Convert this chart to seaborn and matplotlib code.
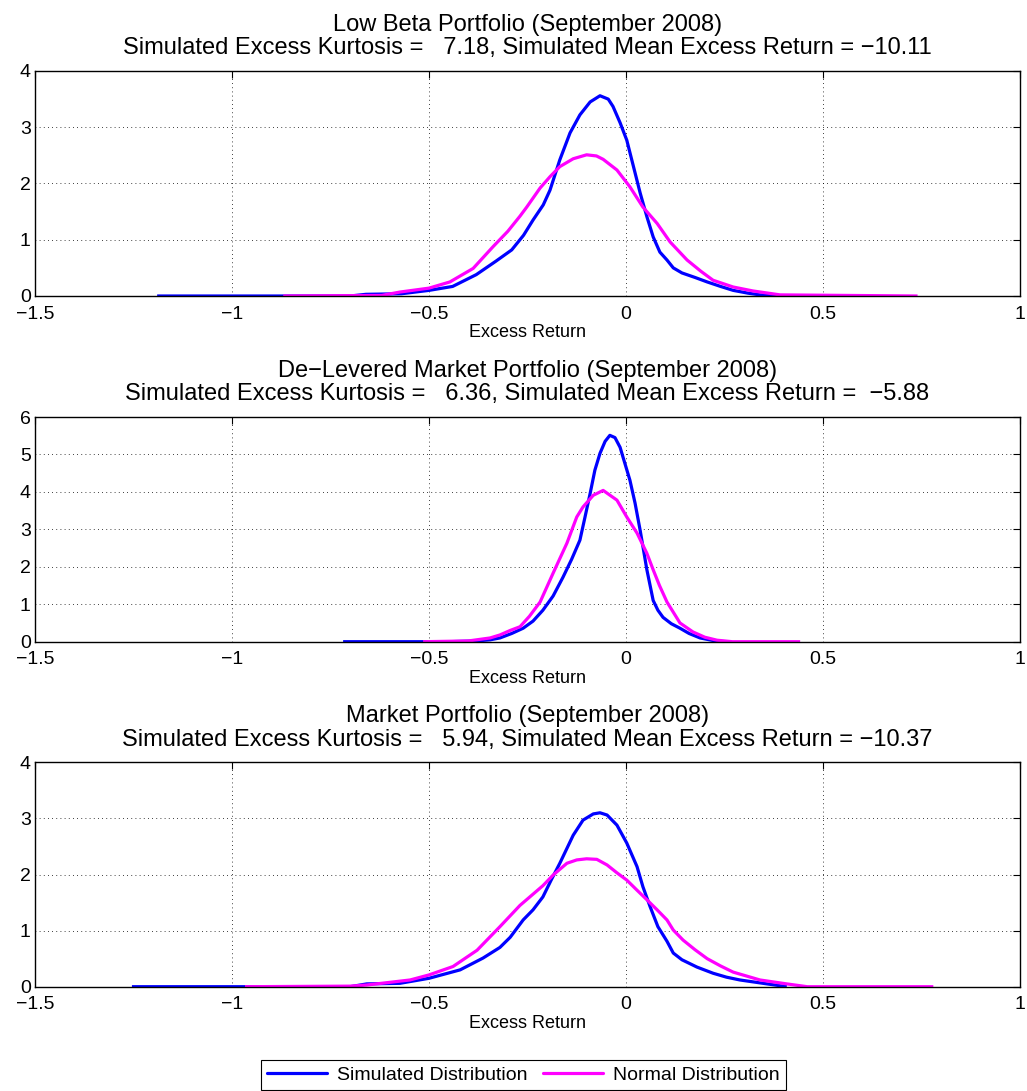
import matplotlib
matplotlib.use("Agg")
import matplotlib.pyplot as plt
import seaborn as sns
import pandas as pd
from matplotlib.lines import Line2D

# ---- data: density curves per panel ----
titles = [
    "Low Beta Portfolio (September 2008)",
    "De\u2212Levered Market Portfolio (September 2008)",
    "Market Portfolio (September 2008)",
]
kurtosis = [7.18, 6.36, 5.94]
mean_excess = [-10.11, -5.88, -10.37]
y_limits = [4, 6, 4]

# Low beta portfolio
sim1_x = [-1.19, -0.70, -0.66, -0.57, -0.50, -0.44, -0.38, -0.33, -0.29, -0.26, -0.236,
          -0.21, -0.193, -0.168, -0.142, -0.117, -0.091, -0.066, -0.045, -0.033, -0.015,
          0.002, 0.019, 0.036, 0.053, 0.069, 0.086, 0.104, 0.12, 0.142, 0.175, 0.206,
          0.24, 0.272, 0.31, 0.34, 0.39]
sim1_y = [0.0, 0.0, 0.03, 0.04, 0.10, 0.17, 0.38, 0.62, 0.82, 1.08, 1.35,
          1.62, 1.88, 2.42, 2.90, 3.22, 3.45, 3.56, 3.50, 3.37, 3.08,
          2.77, 2.30, 1.83, 1.41, 1.05, 0.78, 0.64, 0.50, 0.41, 0.33, 0.25,
          0.17, 0.10, 0.05, 0.02, 0.0]
norm1_x = [-0.87, -0.62, -0.574, -0.50, -0.447, -0.388, -0.337, -0.30, -0.269, -0.252,
           -0.218, -0.193, -0.168, -0.134, -0.10, -0.075, -0.058, -0.023, 0.01, 0.043,
           0.079, 0.112, 0.155, 0.19, 0.221, 0.272, 0.322, 0.391, 0.74]
norm1_y = [0.0, 0.01, 0.07, 0.14, 0.25, 0.49, 0.88, 1.15, 1.42, 1.58,
           1.92, 2.12, 2.30, 2.44, 2.51, 2.49, 2.43, 2.24, 1.94, 1.58,
           1.29, 0.96, 0.64, 0.44, 0.28, 0.16, 0.09, 0.02, 0.0]

# De-levered market portfolio
sim2_x = [-0.718, -0.45, -0.38, -0.345, -0.32, -0.29, -0.261, -0.236, -0.211, -0.185,
          -0.16, -0.138, -0.117, -0.104, -0.091, -0.079, -0.066, -0.053, -0.041, -0.028,
          -0.015, 0.01, 0.023, 0.036, 0.053, 0.069, 0.081, 0.094, 0.115, 0.137, 0.16,
          0.188, 0.231, 0.26]
sim2_y = [0.0, 0.0, 0.02, 0.05, 0.10, 0.22, 0.36, 0.55, 0.84, 1.22,
          1.72, 2.20, 2.71, 3.33, 3.96, 4.58, 5.03, 5.35, 5.51, 5.45,
          5.19, 4.31, 3.70, 2.97, 1.92, 1.10, 0.84, 0.65, 0.48, 0.36, 0.22,
          0.10, 0.01, 0.0]
norm2_x = [-0.515, -0.40, -0.345, -0.32, -0.294, -0.269, -0.245, -0.218, -0.185, -0.15,
           -0.125, -0.109, -0.083, -0.058, -0.023, 0.002, 0.028, 0.053, 0.069, 0.085,
           0.104, 0.137, 0.17, 0.20, 0.231, 0.27, 0.442]
norm2_y = [0.0, 0.02, 0.10, 0.18, 0.30, 0.40, 0.68, 1.06, 1.83, 2.63,
           3.33, 3.60, 3.91, 4.04, 3.78, 3.33, 2.90, 2.36, 1.92, 1.50,
           1.06, 0.50, 0.26, 0.12, 0.04, 0.0, 0.0]

# Market portfolio
sim3_x = [-1.254, -0.70, -0.658, -0.574, -0.50, -0.421, -0.363, -0.32, -0.294, -0.261,
          -0.236, -0.211, -0.19, -0.168, -0.134, -0.109, -0.083, -0.066, -0.048, -0.023,
          0.002, 0.028, 0.043, 0.061, 0.081, 0.104, 0.12, 0.142, 0.18, 0.221, 0.255,
          0.289, 0.358, 0.408]
sim3_y = [0.0, 0.0, 0.05, 0.06, 0.15, 0.30, 0.51, 0.70, 0.88, 1.19,
          1.37, 1.60, 1.90, 2.20, 2.70, 2.97, 3.08, 3.10, 3.06, 2.88,
          2.56, 2.14, 1.78, 1.43, 1.07, 0.81, 0.60, 0.48, 0.35, 0.24, 0.17,
          0.12, 0.05, 0.0]
norm3_x = [-0.967, -0.70, -0.658, -0.548, -0.50, -0.439, -0.378, -0.32, -0.269, -0.211,
           -0.185, -0.15, -0.125, -0.10, -0.074, -0.048, -0.023, 0.002, 0.028, 0.053,
           0.079, 0.104, 0.12, 0.145, 0.175, 0.206, 0.24, 0.272, 0.34, 0.408, 0.46, 0.78]
norm3_y = [0.0, 0.01, 0.03, 0.12, 0.21, 0.36, 0.65, 1.07, 1.45, 1.80,
           1.99, 2.20, 2.26, 2.28, 2.27, 2.17, 2.03, 1.90, 1.72, 1.55,
           1.37, 1.19, 1.01, 0.83, 0.66, 0.50, 0.37, 0.26, 0.12, 0.05, 0.0, 0.0]

x_ticks = [-1.5, -1, -0.5, 0, 0.5, 1]
x_tick_labels = ["\u22121.5", "\u22121", "\u22120.5", "0", "0.5", "1"]

panels = [
    (sim1_x, sim1_y, norm1_x, norm1_y),
    (sim2_x, sim2_y, norm2_x, norm2_y),
    (sim3_x, sim3_y, norm3_x, norm3_y),
]

sns.set_style("white")
plt.rcParams["font.family"] = ["Liberation Sans", "DejaVu Sans"]
plt.rcParams["axes.unicode_minus"] = True
plt.rcParams["text.color"] = "black"
plt.rcParams["axes.labelcolor"] = "black"
plt.rcParams["axes.titlecolor"] = "black"

TITLE_FS = 17
TICK_FS = 14
LABEL_FS = 13
LEGEND_FS = 14
SIM_COLOR = "#0000FF"
NORM_COLOR = "#FF00FF"
LW = 2.3

W, H = 1027, 1091
fig = plt.figure(figsize=(W / 100, H / 100), dpi=100)

# axes boxes in pixels: (left, top, right, bottom)
boxes = [(35, 71, 1020, 296), (35, 417, 1020, 641.7), (35, 762.3, 1020, 986.7)]

for i, (box, (sx, sy, nx, ny)) in enumerate(zip(boxes, panels)):
    l, t, r, b = box
    ax = fig.add_axes([l / W, 1 - b / H, (r - l) / W, (b - t) / H])
    ax.set_axisbelow(True)
    sim_df = pd.DataFrame({"x": sx, "y": sy})
    norm_df = pd.DataFrame({"x": nx, "y": ny})
    sns.lineplot(data=sim_df, x="x", y="y", ax=ax, color=SIM_COLOR,
                 linewidth=LW, sort=False, estimator=None,
                 solid_joinstyle="round", solid_capstyle="butt")
    sns.lineplot(data=norm_df, x="x", y="y", ax=ax, color=NORM_COLOR,
                 linewidth=LW, sort=False, estimator=None,
                 solid_joinstyle="round", solid_capstyle="butt")
    ax.set_xlim(-1.5, 1)
    ax.set_ylim(0, y_limits[i])
    ax.set_xticks(x_ticks)
    ax.set_xticklabels(x_tick_labels)
    ax.set_yticks(range(0, y_limits[i] + 1))
    ax.tick_params(direction="in", length=5, width=0.8, top=True, right=True,
                   labelsize=TICK_FS, colors="black")
    ax.tick_params(axis="x", pad=7)
    ax.tick_params(axis="y", pad=3)
    ax.grid(True, color="black", linestyle=(0, (1, 4)), linewidth=0.6)
    for s in ax.spines.values():
        s.set_visible(True)
        s.set_color("black")
        s.set_linewidth(1.0)
    ax.set_xlabel("Excess Return", fontsize=LABEL_FS, labelpad=1, color="black")
    ax.set_ylabel("")
    ax.set_title(
        f"{titles[i]}\nSimulated Excess Kurtosis = {kurtosis[i]:6.2f}, "
        f"Simulated Mean Excess Return = {mean_excess[i]:6.2f}".replace("-", "\u2212"),
        fontsize=TITLE_FS, pad=12, linespacing=1.08, color="black",
    )

handles = [Line2D([0], [0], color=SIM_COLOR, lw=LW),
           Line2D([0], [0], color=NORM_COLOR, lw=LW)]
leg = fig.legend(handles, ["Simulated Distribution", "Normal Distribution"],
                 loc="lower center", bbox_to_anchor=(523.5 / W, 1.5 / H),
                 ncol=2, fontsize=LEGEND_FS, frameon=True, fancybox=False,
                 edgecolor="black", framealpha=1, handlelength=3.1,
                 handletextpad=0.5, columnspacing=0.8, borderpad=0.3,
                 borderaxespad=0)
leg.get_frame().set_linewidth(0.8)
for txt in leg.get_texts():
    txt.set_color("black")

fig.savefig("out.png", dpi=100, facecolor="white")
